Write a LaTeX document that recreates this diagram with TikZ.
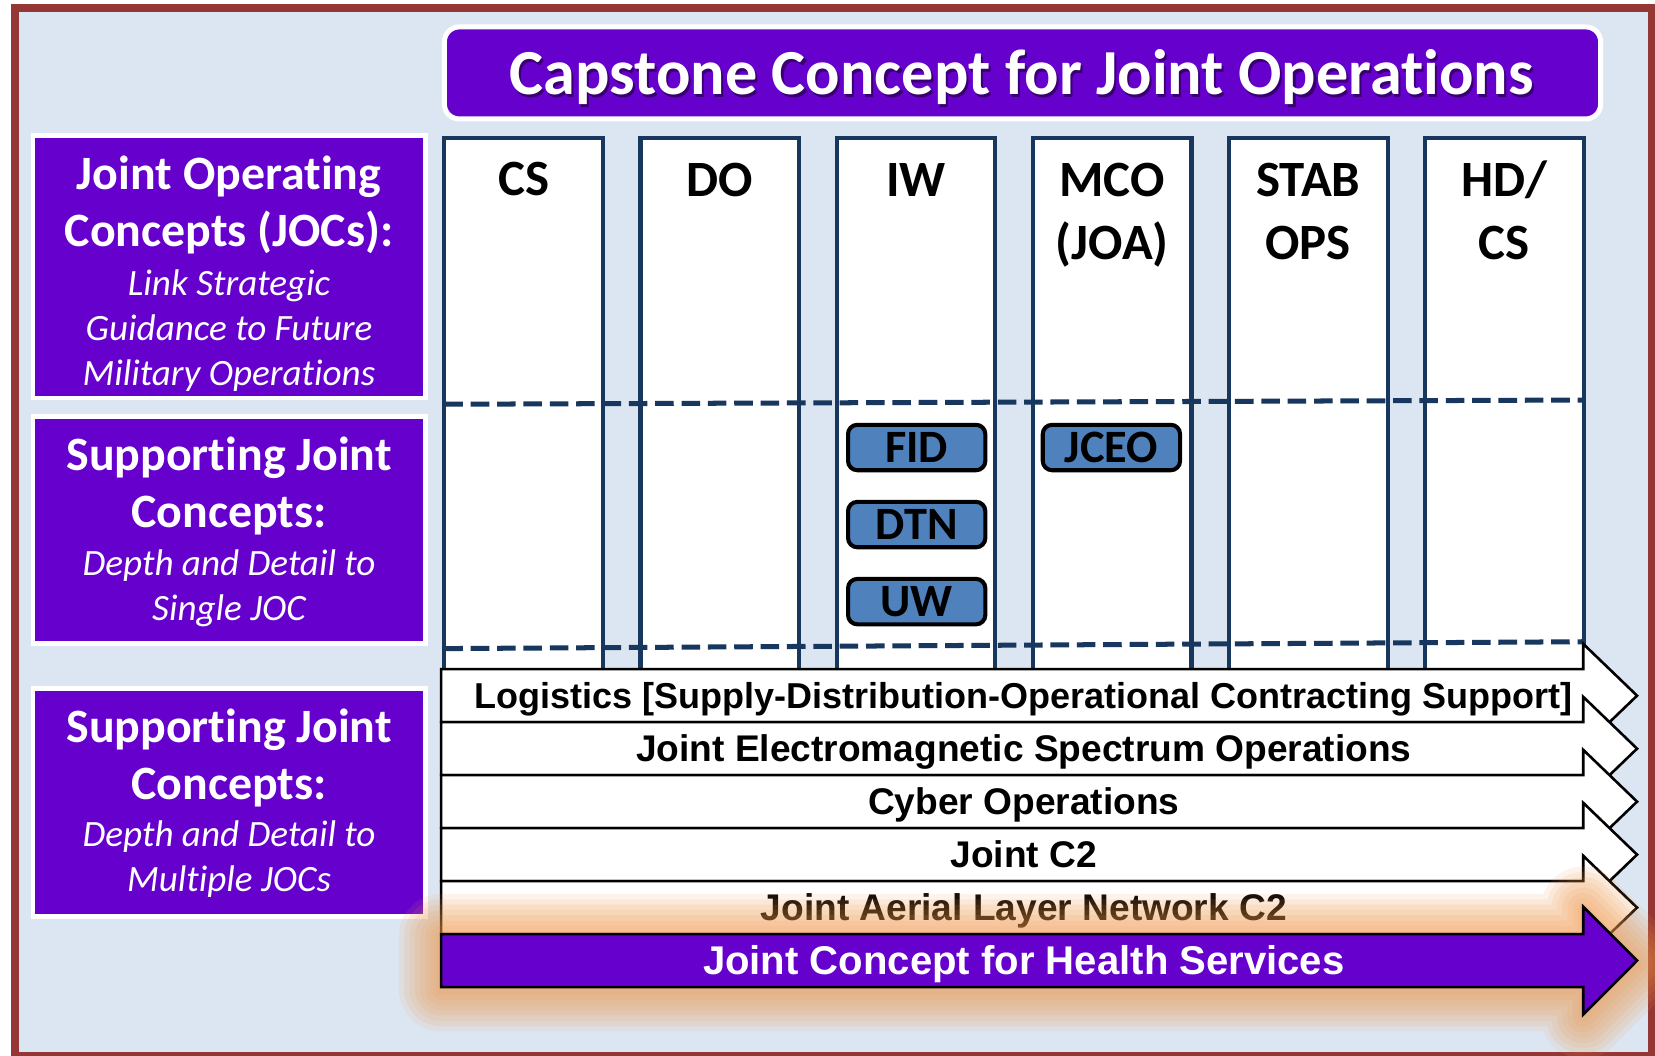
\documentclass[tikz,border=0pt]{standalone}
\usepackage{fontspec}
\setmainfont{Carlito}[Ligatures=NoCommon]
\newfontfamily\arialfont{Liberation Sans}
\definecolor{jointpurple}{RGB}{102,0,204}
\definecolor{paleblue}{RGB}{220,230,242}
\definecolor{framebrown}{RGB}{149,55,53}
\definecolor{navy}{RGB}{23,55,94}
\definecolor{tabblue}{RGB}{79,129,189}
\definecolor{glowcolor}{RGB}{240,150,70}
% block arrow: #1 = top of body, #2 = head overhang
\newcommand{\bandpath}[2]{(418,#1) -- (1500,#1) -- (1500,#1-#2) -- (1551,#1+25.1) -- (1500,#1+50.2+#2) -- (1500,#1+50.2) -- (418,#1+50.2) -- cycle}

\begin{document}
\begin{tikzpicture}
  [x=0.01cm,y=-0.01cm,
   titletext/.style={anchor=base,inner sep=0pt,font=\bfseries\fontsize{17.3}{20}\selectfont},
   jocbox/.style={fill=jointpurple,draw=white,line width=1.3pt},
   jochead/.style={anchor=base,align=center,text=white,inner sep=0pt,font=\bfseries\fontsize{12.9}{15.3}\selectfont},
   jocsub/.style={anchor=base,align=center,text=white,inner sep=0pt,font=\itshape\fontsize{10}{12.1}\selectfont},
   column/.style={fill=white,draw=navy,line width=1.1pt},
   colhead/.style={anchor=base,align=center,inner sep=0pt,font=\bfseries\fontsize{13.7}{17.1}\selectfont},
   divider/.style={draw=navy,line width=1.35pt,dash pattern=on 5pt off 2.1pt},
   tab/.style={fill=tabblue,draw=black,line width=1.1pt,rounded corners=2.5pt,minimum width=1.30cm,minimum height=0.43cm,inner sep=0pt,font=\bfseries\fontsize{12.5}{14}\selectfont},
   band/.style={fill=white,draw=black,line width=0.7pt},
   bandtext/.style={anchor=base,inner sep=0pt,font=\arialfont\bfseries\fontsize{#1}{12}\selectfont},
   bandtext/.default=10]

  \fill[white] (0,0) rectangle (1568,1000);
  \useasboundingbox (0,0) rectangle (1568,1000);
  \draw[draw=framebrown,line width=2.3pt,fill=paleblue] (14,7.5) rectangle (1565,1001);

  % title
  \draw[fill=jointpurple,draw=white,line width=1.35pt,rounded corners=4pt] (421,25.5) rectangle (1516.5,112.7);
  \node[titletext,text=black,opacity=0.45] (titleshade) at (970,92) {Capstone Concept for Joint Operations};
  \node[titletext,text=white] (title) at (968,90) {Capstone Concept for Joint Operations};

  % row headings (base = last line)
  \draw[jocbox] (31.3,128.3) rectangle (403.3,377);
  \draw[jocbox] (31.3,394.5) rectangle (403.3,610);
  \draw[jocbox] (31.3,652) rectangle (403.3,868);
  \node[jochead] (joc) at (217,233.7) {Joint Operating\\Concepts (JOCs):};
  \node[jocsub] (jocnote) at (217,364.8) {Link Strategic\\Guidance to Future\\Military Operations};
  \node[jochead] (single) at (217,499.8) {Supporting Joint\\Concepts:};
  \node[jocsub] (singlenote) at (217,588.2) {Depth and Detail to\\Single JOC};
  \node[jochead] (multi) at (217,757.4) {Supporting Joint\\Concepts:};
  \node[jocsub] (multinote) at (217,845) {Depth and Detail to\\Multiple JOCs};

  % JOC columns
  \foreach \i/\yb/\name/\lbl in {0/185/cs/CS,1/186/do/DO,2/186/iw/IW,3/246/mco/{MCO\\(JOA)},4/246/stab/{STAB\\OPS},5/246/hdcs/{HD/\\CS}}
  {
    \draw[column] (421+185.8*\i,131) rectangle (571.5+185.8*\i,650);
    \node[colhead] (\name) at (496.3+185.8*\i,\yb) {\lbl};
  }

  \draw[divider] (421,383) -- (1501,379);
  \draw[divider] (421,614.5) -- (1501,608);

  % single-JOC concepts
  \node[tab] (fid) at (868.5,424) {FID};
  \node[tab] (dtn) at (868.5,497) {DTN};
  \node[tab] (uw) at (868.5,570) {UW};
  \node[tab] (jceo) at (1053,424) {JCEO};

  % multi-JOC concepts
  \foreach \y/\fs/\name/\txt in {634/9.7/logi/{Logistics [Supply-Distribution-Operational Contracting Support]},684.2/10/emso/{Joint Electromagnetic Spectrum Operations},734.4/10/cyber/{Cyber Operations},784.6/10/jc2/{Joint C2},834.8/10/aln/{Joint Aerial Layer Network C2}}
  {
    \draw[band] \bandpath{\y}{24};
    \node[bandtext=\fs] (\name) at (970,\y+37) {\txt};
  }

  \foreach \g in {40,35,...,5}
    \draw[draw=glowcolor,opacity=0.11,line width=\g*0.569pt,line join=round] \bandpath{887}{26};
  \draw[band,fill=jointpurple] \bandpath{885}{26};
  \node[bandtext=10.8,text=white] (health) at (970,923.5) {Joint Concept for Health Services};

\end{tikzpicture}
\end{document}
